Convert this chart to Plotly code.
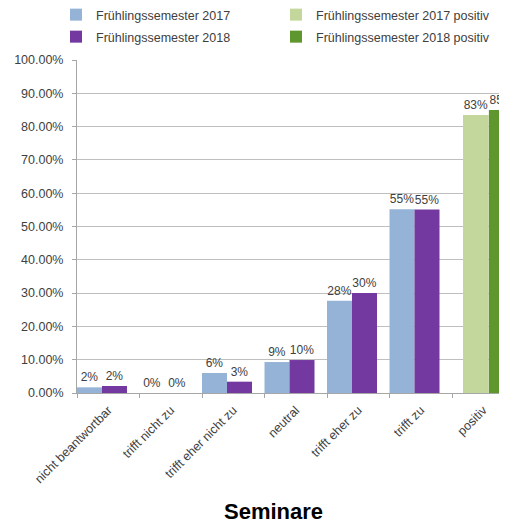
import plotly.graph_objects as go

categories = ["nicht beantwortbar", "trifft nicht zu", "trifft eher nicht zu",
              "neutral", "trifft eher zu", "trifft zu"]
fs2017 = [0.017, 0.0, 0.06, 0.093, 0.277, 0.552]
fs2018 = [0.021, 0.0, 0.034, 0.099, 0.30, 0.551]
labels2017 = ["2%", "0%", "6%", "9%", "28%", "55%"]
labels2018 = ["2%", "0%", "3%", "10%", "30%", "55%"]

pos_category = ["positiv"]
pos2017 = [0.835]
pos2018 = [0.85]
pos_labels2017 = ["83%"]
pos_labels2018 = ["85%"]

txt = "#404040"
font = "Arial, Liberation Sans, sans-serif"

fig = go.Figure()
fig.add_trace(go.Bar(x=categories, y=fs2017, name="Frühlingssemester 2017",
                     marker_color="#95B3D7", offset=-0.5, width=0.4,
                     text=labels2017, legend="legend"))
fig.add_trace(go.Bar(x=pos_category, y=pos2017, name="Frühlingssemester 2017 positiv",
                     marker_color="#C3D69B", offset=-0.324, width=0.41,
                     text=pos_labels2017, legend="legend"))
fig.add_trace(go.Bar(x=categories, y=fs2018, name="Frühlingssemester 2018",
                     marker_color="#7339A0", offset=-0.1, width=0.4,
                     text=labels2018, legend="legend2"))
fig.add_trace(go.Bar(x=pos_category, y=pos2018, name="Frühlingssemester 2018 positiv",
                     marker_color="#60962E", offset=0.09, width=0.41,
                     text=pos_labels2018, legend="legend2"))
fig.update_traces(textposition="outside", constraintext="none", marker_line_width=0,
                  textfont=dict(size=12, color=txt, family=font))

fig.update_xaxes(categoryorder="array", categoryarray=categories + pos_category,
                 range=[-0.5, 6.38], tickson="boundaries", ticks="outside", ticklen=4,
                 tickcolor="#A6A6A6", showline=True, linecolor="#A6A6A6", showgrid=False,
                 tickangle=-45, ticklabelstandoff=4,
                 tickfont=dict(size=12.5, color=txt, family=font))
fig.update_yaxes(range=[0, 1], dtick=0.1, tickformat=".2%", ticks="outside", ticklen=4,
                 tickcolor="#A6A6A6", showline=True, linecolor="#A6A6A6",
                 gridcolor="#BFBFBF", gridwidth=1, zeroline=False, ticklabelstandoff=6,
                 tickfont=dict(size=12.5, color=txt, family=font))

legend_style = dict(orientation="h", x=-0.0488, xanchor="left", yanchor="middle",
                    entrywidth=175, entrywidthmode="pixels", itemwidth=30,
                    bgcolor="rgba(0,0,0,0)",
                    font=dict(size=12.5, color=txt, family=font))
fig.update_layout(width=499,
                  height=518,
                  margin=dict(l=69, r=0, t=52, b=133, autoexpand=False),
                  barmode="overlay",
                  plot_bgcolor="white",
                  paper_bgcolor="white",
                  showlegend=True,
                  legend=dict(legend_style, y=1.1351),
                  legend2=dict(legend_style, y=1.069),
                  annotations=[dict(text="<b>Seminare</b>", xref="paper", yref="paper",
                                    x=0.456, y=-0.357, xanchor="center", yanchor="middle",
                                    showarrow=False,
                                    font=dict(size=22, color="black", family=font))])
fig.write_html("out.html")
